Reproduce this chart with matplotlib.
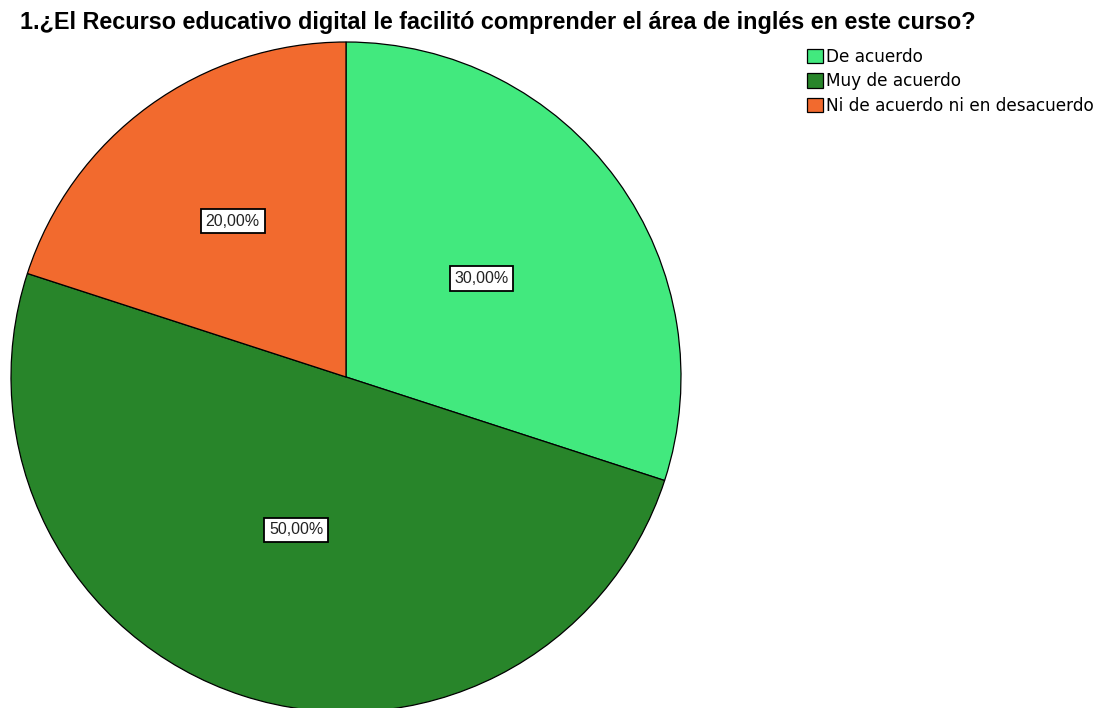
import matplotlib
matplotlib.use("Agg")
import matplotlib.pyplot as plt
import numpy as np

title = "1.¿El Recurso educativo digital le facilitó comprender el área de inglés en este curso?"
categories = ["De acuerdo", "Muy de acuerdo", "Ni de acuerdo ni en desacuerdo"]
values = [30.0, 50.0, 20.0]
colors = ["#42E97E", "#28852A", "#F26A2E"]
label_dist = [0.5, 0.48, 0.575]

W, H = 1099, 708
CX, CY, R = 346, H - 377, 335
fig = plt.figure(figsize=(W / 100, H / 100), dpi=100)
ax = fig.add_axes([0, 0, 1, 1])

wedges, texts, autotexts = ax.pie(
    values, colors=colors, startangle=90, counterclock=False,
    center=(CX, CY), radius=R, frame=True,
    autopct=lambda p: f"{p:.2f}%".replace(".", ","), pctdistance=0.5,
    wedgeprops=dict(edgecolor="black", linewidth=0.9),
    textprops=dict(fontsize=11.5, family="Liberation Sans", color="#222222"),
)
for w, t, d in zip(wedges, autotexts, label_dist):
    ang = np.deg2rad((w.theta1 + w.theta2) / 2)
    t.set_position((CX + R * d * np.cos(ang), CY + R * d * np.sin(ang)))
    t.set_bbox(dict(facecolor="white", edgecolor="black", linewidth=1.3,
                    boxstyle="square,pad=0.3"))
ax.set_xlim(0, W)
ax.set_ylim(0, H)
ax.set_aspect("equal")
ax.axis("off")

fig.text(20 / W, 1 - 23 / H, title, fontsize=16.85, fontweight="bold",
         family="Liberation Sans", va="center", ha="left")

leg = fig.legend(wedges, categories, loc="upper left", bbox_to_anchor=(807 / W, 1 - 48 / H),
                 frameon=False, fontsize=12.2, handlelength=0.95, handleheight=0.95,
                 handletextpad=0.15, labelspacing=0.38, borderaxespad=0, borderpad=0)

fig.savefig("out.png", dpi=100)
